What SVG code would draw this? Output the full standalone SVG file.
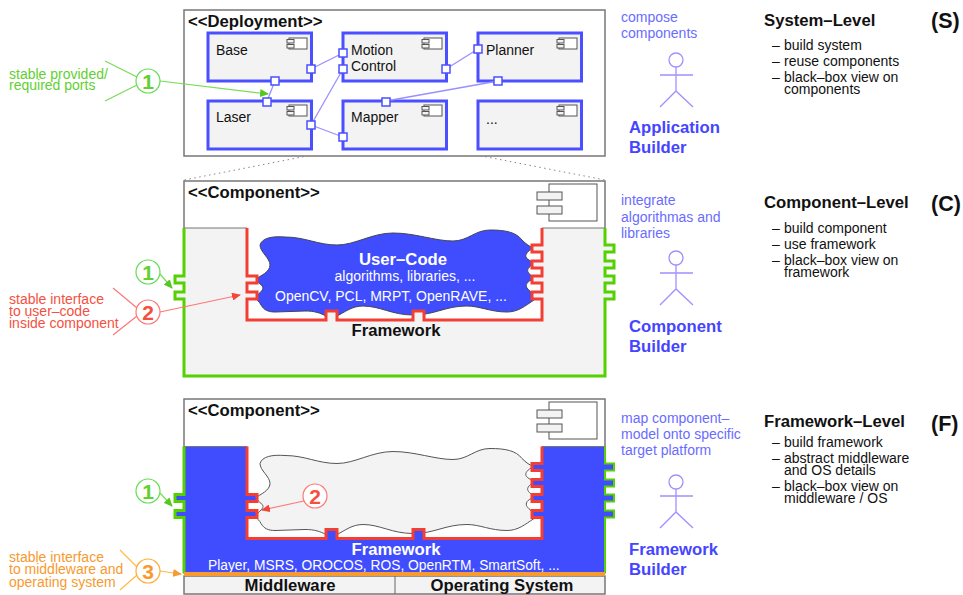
<svg xmlns="http://www.w3.org/2000/svg" xmlns:xlink="http://www.w3.org/1999/xlink" width="963" height="595" viewBox="0 0 963 595">
<style>
text{font-family:"Liberation Sans",Arial,sans-serif;font-size:14px;fill:#111}
.b{font-weight:bold;font-size:16.7px}
.box{fill:#fff;stroke:#777;stroke-width:1.5}
.node{fill:#f3f3f3;stroke:#4a4fff;stroke-width:3}
.port{fill:#fff;stroke:#4a4fff;stroke-width:1.5}
.conn{fill:none;stroke:#9a8fff;stroke-width:1.3}
.dot{fill:none;stroke:#888;stroke-width:1;stroke-dasharray:1.5 3.5}
.ico{fill:#fff;stroke:#555;stroke-width:1}
.stub{fill:#f3f3f3;stroke:#555;stroke-width:1}
.red{fill:none;stroke:#f33f33;stroke-width:3}
.grn{fill:none;stroke:#55d000;stroke-width:3}
.act{fill:none;stroke:#a090ff;stroke-width:1.3}
.g{fill:#62d02f}.r{fill:#f5503f}.o{fill:#f79a30}
.lb{fill:#6a6cff}.bb{fill:#4545ff;font-weight:bold;font-size:16.7px}
.w{fill:#fff}
.cg{fill:#fff;stroke:#66dd55;stroke-width:1.2}.cr{fill:#fff;stroke:#f77;stroke-width:1.2}.co{fill:#fff;stroke:#fa3;stroke-width:1.2}
.lg{stroke:#77dd55;stroke-width:1.2;fill:none}.lr{stroke:#f77;stroke-width:1.2;fill:none}.lo{stroke:#fb4;stroke-width:1.2;fill:none}
.num{font-weight:bold;font-size:21px;text-anchor:middle}
.m{text-anchor:middle}
</style>
<defs>
<marker id="ag" markerWidth="9" markerHeight="8" refX="8" refY="4" orient="auto" markerUnits="userSpaceOnUse"><path d="M0,0L9,4L0,8Z" fill="#55c81f"/></marker>
<marker id="ar" markerWidth="9" markerHeight="8" refX="8" refY="4" orient="auto" markerUnits="userSpaceOnUse"><path d="M0,0L9,4L0,8Z" fill="#f3453a"/></marker>
<marker id="ao" markerWidth="9" markerHeight="8" refX="8" refY="4" orient="auto" markerUnits="userSpaceOnUse"><path d="M0,0L9,4L0,8Z" fill="#f79a30"/></marker>
<g id="ic"><rect class="ico" x="289" y="38" width="18" height="11"/><rect class="stub" x="287" y="39.5" width="7" height="3.5"/><rect class="stub" x="287" y="44.5" width="7" height="3.5"/></g>
<g id="icL"><rect class="ico" x="549" y="184" width="48" height="37"/><rect class="stub" x="537" y="192" width="25" height="8"/><rect class="stub" x="537" y="206" width="25" height="8"/></g>
<path id="blob" d="M260,245C262,238 272,236 285,237C305,237 318,245 337,245C355,245 372,233 393,233C415,233 435,241 453,241C468,241 475,230 490,230C505,230 516,232 522,240C526,244 530,247 534,248C527,251 525,255 526,257C527,260 534,262 534,264C528,267 527,270 528,272C529,275 534,276 534,279C527,281 525,285 527,288C529,291 534,293 534,300C525,306 518,312 507,312C490,312 480,306 467,306C445,306 435,315 413,315C392,315 380,306 363,306C352,306 345,312 337,316L326,316C320,313 315,311 305,311C295,311 285,312 275,312C268,312 264,310 261,305C260,302 256,300 256,298C257,294 263,291 263,288C263,285 256,282 256,279C260,276 270,272 270,265C270,258 260,252 260,245Z"/>
<path id="red" d="M247,228V276H257V283H247V292H257V299H247V320H326V311H337V320H413V311H424V320H542V299H532V292H542V283H532V276H542V268H532V261H542V252H532V245H542V228"/>
</defs>

<g id="connectors">
<path class="dot" d="M343,149L184,180M446,149L605,180"/>
</g>

<g id="deployment">
<rect class="box" x="184" y="10" width="421" height="146"/>
<text class="b" x="188" y="27">&lt;&lt;Deployment&gt;&gt;</text>
</g>
<g id="node-base"><rect class="node" x="208" y="33" width="103.500" height="48"/><use href="#ic"/><text x="216" y="55">Base</text></g>
<g id="node-motion"><rect class="node" x="343" y="33" width="103.500" height="48"/><use href="#ic" x="135"/><text x="351" y="55">Motion</text><text x="351" y="71">Control</text></g>
<g id="node-planner"><rect class="node" x="478" y="33" width="103.500" height="48"/><use href="#ic" x="270"/><text x="486" y="55">Planner</text></g>
<g id="node-laser"><rect class="node" x="208" y="101" width="103.500" height="48"/><use href="#ic" y="67"/><text x="216" y="122">Laser</text></g>
<g id="node-mapper"><rect class="node" x="343" y="101" width="103.500" height="48"/><use href="#ic" x="135" y="67"/><text x="351" y="122">Mapper</text></g>
<g id="node-more"><rect class="node" x="478" y="101" width="103.500" height="48"/><use href="#ic" x="270" y="67"/><text x="486" y="124">...</text></g>

<g id="port-connectors">
<path class="conn" d="M311,69L343,53M275,81L267,101M311,125L343,69M311,125L343,137M446,69L478,49M386,101L498,81"/>
</g>
<g id="ports">
<rect class="port" x="307" y="65" width="8" height="8"/><rect class="port" x="271" y="77" width="8" height="8"/>
<rect class="port" x="339" y="49" width="8" height="8"/><rect class="port" x="339" y="65" width="8" height="8"/><rect class="port" x="442" y="65" width="8" height="8"/>
<rect class="port" x="474" y="45" width="8" height="8"/><rect class="port" x="494" y="77" width="8" height="8"/>
<rect class="port" x="263" y="98" width="8" height="8"/><rect class="port" x="307" y="121" width="8" height="8"/>
<rect class="port" x="339" y="133" width="8" height="8"/><rect class="port" x="382" y="98" width="8" height="8"/>
</g>

<g id="component-c">
<path class="box" d="M184,228V181H605V228"/>
<text class="b" x="188" y="198">&lt;&lt;Component&gt;&gt;</text>
<use href="#icL"/>
<use href="#blob" fill="#3f4dff" stroke="#445" stroke-width="1"/>
<path fill="#f3f3f3" stroke="#777" stroke-width="1" d="M184,228V276H175V283H184V292H175V299H184V376H605V299H614V292H605V283H614V276H605V268H614V261H605V252H614V245H605V228H542V245H532V252H542V261H532V268H542V276H532V283H542V292H532V299H542V320H424V311H413V320H337V311H326V320H247V299H257V292H247V283H257V276H247V228Z"/>
<use href="#red" class="red"/>
<path class="grn" d="M184,228V276H175V283H184V292H175V299H184V376H605V299H614V292H605V283H614V276H605V268H614V261H605V252H614V245H605V228"/>
<text class="b w m" x="403" y="265">User–Code</text>
<text class="w m" x="405" y="281">algorithms, libraries, ...</text>
<text class="w" x="275" y="301">OpenCV, PCL, MRPT, OpenRAVE, ...</text>
<text class="b m" x="396" y="336">Framework</text>
</g>

<g id="component-f">
<path class="box" d="M184,447V399H605V447"/>
<text class="b" x="188" y="416">&lt;&lt;Component&gt;&gt;</text>
<use href="#icL" y="218"/>
<g transform="translate(0,218.500)">
<use href="#blob" fill="#f3f3f3" stroke="#555" stroke-width="1"/>
<path fill="#3f4dff" stroke="#777" stroke-width="1" d="M184,228V276H175V283H184V292H175V299H184V355H605V299H614V292H605V283H614V276H605V268H614V261H605V252H614V245H605V228H542V245H532V252H542V261H532V268H542V276H532V283H542V292H532V299H542V320H424V311H413V320H337V311H326V320H247V299H257V292H247V283H257V276H247V228Z"/>
<use href="#red" class="red"/>
<path class="grn" d="M184,228V276H175V283H184V292H175V299H184V355"/>
<path class="grn" style="stroke-width:2" d="M605,355V299H614V292H605V283H614V276H605V268H614V261H605V252H614V245H605V228"/>
</g>
<text class="b w m" x="396" y="555">Framework</text>
<text class="w" x="208" y="570" style="font-size:13.800px">Player, MSRS, OROCOS, ROS, OpenRTM, SmartSoft, ...</text>
<rect x="184" y="576" width="421" height="18" fill="#f3f3f3" stroke="#777" stroke-width="1.500"/>
<path d="M395,576V594" stroke="#666" stroke-width="1"/>
<path d="M184,574H605" stroke="#f79a30" stroke-width="4"/>
<text class="b m" x="290" y="591">Middleware</text>
<text class="b m" x="502" y="591">Operating System</text>
</g>

<g id="callout-s1">
<path class="lg" d="M105,61L137,77M105,101L137,85"/>
<path class="lg" marker-end="url(#ag)" d="M160,81L268,94"/>
<circle class="cg" cx="148" cy="81" r="12"/><text class="num g" x="148" y="88.500">1</text>
<text class="g" x="9" y="79">stable provided/</text><text class="g" x="9" y="90">required ports</text>
</g>
<g id="callout-c1">
<path class="lg" marker-end="url(#ag)" d="M160,274L172,288"/>
<circle class="cg" cx="148" cy="272" r="12"/><text class="num g" x="148" y="279.500">1</text>
</g>
<g id="callout-c2">
<path class="lr" d="M113,288L137,308M113,335L137,316"/>
<path class="lr" marker-end="url(#ar)" d="M160,312L240,295"/>
<circle class="cr" cx="148" cy="312" r="12"/><text class="num r" x="148" y="319.500">2</text>
<text class="r" x="9" y="304">stable interface</text><text class="r" x="9" y="316">to user–code</text><text class="r" x="9" y="328">inside component</text>
</g>
<g id="callout-f1">
<path class="lg" marker-end="url(#ag)" d="M160,493L172,506"/>
<circle class="cg" cx="148" cy="491" r="12"/><text class="num g" x="148" y="498.500">1</text>
</g>
<g id="callout-f2">
<path class="lr" marker-end="url(#ar)" d="M304,501L262,510"/>
<circle class="cr" cx="315" cy="496" r="12"/><text class="num r" x="315" y="503.500">2</text>
</g>
<g id="callout-f3">
<path class="lo" d="M120,550L137,567M120,590L137,575"/>
<path class="lo" marker-end="url(#ao)" d="M160,571L181,574"/>
<circle class="co" cx="148" cy="571" r="12"/><text class="num o" x="148" y="578.500">3</text>
<text class="o" x="9" y="562">stable interface</text><text class="o" x="9" y="574">to middleware and</text><text class="o" x="9" y="587">operating system</text>
</g>

<g id="actor-application">
<text class="lb" x="621" y="22">compose</text><text class="lb" x="621" y="38">components</text>
<circle class="act" cx="676" cy="60" r="7"/><path class="act" d="M676,67V91M660,75H693M660,107L676,91L693,107"/>
<text class="bb" x="629" y="133">Application</text><text class="bb" x="629" y="153">Builder</text>
</g>
<g id="actor-component">
<text class="lb" x="621" y="205">integrate</text><text class="lb" x="621" y="222">algorithmas and</text><text class="lb" x="621" y="238">libraries</text>
<circle class="act" cx="676" cy="258" r="7"/><path class="act" d="M676,265V289M660,273H693M660,305L676,289L693,305"/>
<text class="bb" x="629" y="332">Component</text><text class="bb" x="629" y="352">Builder</text>
</g>
<g id="actor-framework">
<text class="lb" x="621" y="423">map component–</text><text class="lb" x="621" y="439">model onto specific</text><text class="lb" x="621" y="455">target platform</text>
<circle class="act" cx="676" cy="482" r="7"/><path class="act" d="M676,489V512M660,496H693M660,528L676,512L693,528"/>
<text class="bb" x="629" y="555">Framework</text><text class="bb" x="629" y="575">Builder</text>
</g>

<g id="level-system">
<text class="b" x="764" y="26">System–Level</text>
<text x="772" y="50">–</text><text x="784" y="50">build system</text>
<text x="772" y="66">–</text><text x="784" y="66">reuse components</text>
<text x="772" y="82">–</text><text x="784" y="82">black–box view on</text>
<text x="784" y="94">components</text>
<text class="b" x="931" y="28" style="font-size:21.500px">(S)</text>
</g>
<g id="level-component">
<text class="b" x="764" y="208">Component–Level</text>
<text x="772" y="233">–</text><text x="784" y="233">build component</text>
<text x="772" y="249">–</text><text x="784" y="249">use framework</text>
<text x="772" y="265">–</text><text x="784" y="265">black–box view on</text>
<text x="784" y="277">framework</text>
<text class="b" x="931" y="211" style="font-size:21.500px">(C)</text>
</g>
<g id="level-framework">
<text class="b" x="764" y="427">Framework–Level</text>
<text x="772" y="447">–</text><text x="784" y="447">build framework</text>
<text x="772" y="463">–</text><text x="784" y="463">abstract middleware</text>
<text x="784" y="475">and OS details</text>
<text x="772" y="491">–</text><text x="784" y="491">black–box view on</text>
<text x="784" y="503">middleware / OS</text>
<text class="b" x="931" y="431" style="font-size:21.500px">(F)</text>
</g>
</svg>
